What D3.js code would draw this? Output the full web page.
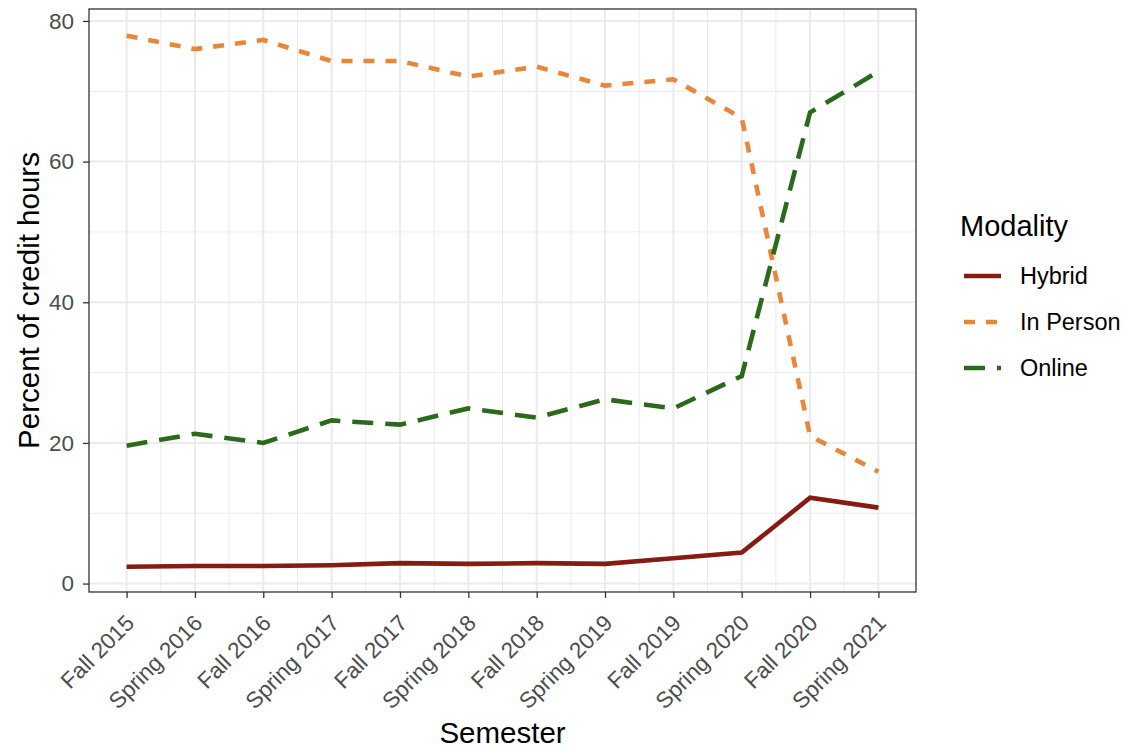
<!DOCTYPE html>
<html>
<head>
<meta charset="utf-8">
<script src="https://cdn.jsdelivr.net/npm/d3@7"></script>
<style>
  body { margin: 0; background: #fff; font-family: "Liberation Sans", Arial, sans-serif; }
</style>
</head>
<body>
<div id="container"></div>
<script>
const semesters = ["Fall 2015", "Spring 2016", "Fall 2016", "Spring 2017", "Fall 2017", "Spring 2018",
    "Fall 2018", "Spring 2019", "Fall 2019", "Spring 2020", "Fall 2020", "Spring 2021"];
const hybrid   = [2.4, 2.5, 2.5, 2.6, 2.9, 2.8, 2.9, 2.8, 3.6, 4.4, 12.2, 10.8];
const inPerson = [77.9, 76.0, 77.3, 74.3, 74.3, 72.1, 73.5, 70.8, 71.7, 66.2, 21.0, 15.9];
const online   = [19.6, 21.3, 20.0, 23.2, 22.6, 24.9, 23.6, 26.2, 24.9, 29.5, 67.0, 72.8];
const modalities = ["Hybrid", "In Person", "Online"];
const yTicks = [0, 20, 40, 60, 80];
const yMinor = [10, 30, 50, 70];

const series = [
    { name: modalities[0], values: hybrid, color: "#861b12", dash: null },
    { name: modalities[1], values: inPerson, color: "#e8873a", dash: "11,11" },
    { name: modalities[2], values: online, color: "#2b6a1b", dash: "21,12" }
];

const W = 1126, H = 750;
const panel = { left: 89, right: 916, top: 9, bottom: 592 };
const font = "Liberation Sans, Arial, sans-serif";

const svg = d3.select("#container").append("svg")
    .attr("width", W)
    .attr("height", H)
    .style("font-family", font);

const x = d3.scaleLinear()
    .domain([-0.55, semesters.length - 0.45])
    .range([panel.left, panel.right]);

const y = d3.scaleLinear()
    .domain([-1.2, 81.7])
    .range([panel.bottom, panel.top]);

// grid
const grid = svg.append("g");
grid.selectAll("line.hmin").data(yMinor).enter().append("line")
    .attr("x1", panel.left).attr("x2", panel.right)
    .attr("y1", d => y(d)).attr("y2", d => y(d))
    .attr("stroke", "#ebebeb").attr("stroke-width", 1);
grid.selectAll("line.vmin").data(d3.range(semesters.length - 1)).enter().append("line")
    .attr("x1", d => x(d + 0.5)).attr("x2", d => x(d + 0.5))
    .attr("y1", panel.top).attr("y2", panel.bottom)
    .attr("stroke", "#ebebeb").attr("stroke-width", 1);
grid.selectAll("line.hmaj").data(yTicks).enter().append("line")
    .attr("x1", panel.left).attr("x2", panel.right)
    .attr("y1", d => y(d)).attr("y2", d => y(d))
    .attr("stroke", "#ebebeb").attr("stroke-width", 2);
grid.selectAll("line.vmaj").data(semesters).enter().append("line")
    .attr("x1", (d, i) => x(i)).attr("x2", (d, i) => x(i))
    .attr("y1", panel.top).attr("y2", panel.bottom)
    .attr("stroke", "#ebebeb").attr("stroke-width", 2);

// lines
const line = d3.line()
    .x((d, i) => x(i))
    .y(d => y(d));

svg.selectAll("path.series").data(series).enter().append("path")
    .attr("d", d => line(d.values))
    .attr("fill", "none")
    .attr("stroke", d => d.color)
    .attr("stroke-width", 4.6)
    .attr("stroke-dasharray", d => d.dash);

// panel border
svg.append("rect")
    .attr("x", panel.left).attr("y", panel.top)
    .attr("width", panel.right - panel.left)
    .attr("height", panel.bottom - panel.top)
    .attr("fill", "none").attr("stroke", "#333").attr("stroke-width", 1.3);

// axes
const yAxis = svg.append("g")
    .attr("transform", `translate(${panel.left},0)`)
    .call(d3.axisLeft(y).tickValues(yTicks).tickSize(6).tickPadding(9));
const xAxis = svg.append("g")
    .attr("transform", `translate(0,${panel.bottom})`)
    .call(d3.axisBottom(x).tickValues(d3.range(semesters.length)).tickSize(6).tickFormat(i => semesters[i]));

[yAxis, xAxis].forEach(a => {
    a.attr("font-size", null).attr("font-family", null);
    a.select(".domain").remove();
    a.selectAll(".tick line").attr("stroke", "#333").attr("stroke-width", 1.3);
    a.selectAll(".tick text")
        .attr("fill", "#4d4d4d")
        .style("font-size", "22.5px");
});

xAxis.selectAll(".tick text")
    .attr("text-anchor", "end")
    .attr("y", 0)
    .attr("dy", "0.72em")
    .attr("transform", "translate(-3,21) rotate(-45)");

// axis titles
svg.append("text")
    .attr("x", (panel.left + panel.right) / 2)
    .attr("y", 743)
    .attr("text-anchor", "middle")
    .style("font-size", "29.5px")
    .text("Semester");

svg.append("text")
    .attr("transform", `translate(39,${(panel.top + panel.bottom) / 2}) rotate(-90)`)
    .attr("text-anchor", "middle")
    .style("font-size", "29.5px")
    .text("Percent of credit hours");

// legend
const legend = svg.append("g").attr("transform", "translate(960,0)");
legend.append("text")
    .attr("x", 0).attr("y", 236)
    .style("font-size", "29px")
    .text("Modality");

const item = legend.selectAll("g.item").data(series).enter().append("g")
    .attr("transform", (d, i) => `translate(0,${276 + i * 46})`);
item.append("line")
    .attr("x1", 4).attr("x2", 41)
    .attr("stroke", d => d.color)
    .attr("stroke-width", 4.6)
    .attr("stroke-dasharray", d => d.dash);
item.append("text")
    .attr("x", 60).attr("y", 0).attr("dy", "0.35em")
    .style("font-size", "23.5px")
    .text(d => d.name);
</script>
</body>
</html>
